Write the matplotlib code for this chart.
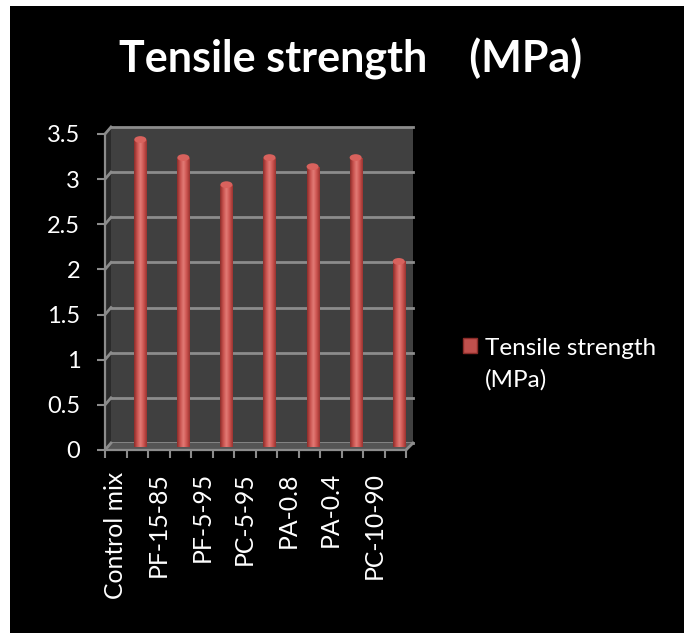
import numpy as np
import matplotlib
matplotlib.use("Agg")
import matplotlib.pyplot as plt
from matplotlib.patches import Rectangle, Polygon, Ellipse
from matplotlib.colors import LinearSegmentedColormap

categories = ["Control mix", "PF-15-85", "PF-5-95", "PC-5-95", "PA-0.8", "PA-0.4", "PC-10-90"]
tensile_mpa = [3.4, 3.2, 2.9, 3.2, 3.1, 3.2, 2.05]
y_ticks = [0, 0.5, 1, 1.5, 2, 2.5, 3, 3.5]
y_tick_labels = ["0", "0.5", "1", "1.5", "2", "2.5", "3", "3.5"]
series_name = ["Tensile strength", "(MPa)"]
title = "Tensile strength    (MPa)"

FONT = ["Lato", "DejaVu Sans"]
plt.rcParams["font.family"] = FONT

W, H = 684, 633
fig = plt.figure(figsize=(W / 100, H / 100), dpi=100, facecolor="white")


def box(l, t, r, b):
    return [l / W, 1 - b / H, (r - l) / W, (b - t) / H]


def fx(x):
    return x / W


def fy(y):
    return 1 - y / H


# black chart panel
fig.patches.append(Rectangle((fx(10), 0), 1 - fx(10), fy(6), transform=fig.transFigure,
                             facecolor="black", edgecolor="none", zorder=-10))

GRID = "#8c8c8c"
n = len(categories)
ymax = 3.5

# back wall
ax_back = fig.add_axes(box(111, 127, 413, 443), zorder=1)
ax_back.set_facecolor("#404040")
ax_back.set_xlim(0, n)
ax_back.set_ylim(0, ymax)
for yv in y_ticks:
    ax_back.axhline(yv, color=GRID, lw=2, zorder=1, clip_on=False)
ax_back.set_xticks([])
ax_back.set_yticks([])
for s in ax_back.spines.values():
    s.set_visible(False)

# front axes carrying the ticks and labels
ax_front = fig.add_axes(box(105, 134, 406, 450), zorder=6)
ax_front.set_facecolor("none")
ax_front.set_xlim(0, n)
ax_front.set_ylim(0, ymax)
for s in ("top", "right"):
    ax_front.spines[s].set_visible(False)
for s in ("left", "bottom"):
    ax_front.spines[s].set_color(GRID)
    ax_front.spines[s].set_linewidth(1.6)
ax_front.set_yticks(y_ticks)
ax_front.set_yticklabels(y_tick_labels)
ax_front.tick_params(axis="y", length=5.8, width=1.5, color=GRID, labelcolor="white",
                     labelsize=17, pad=12)
ax_front.set_xticks(np.arange(0, n + 0.01, 0.5))
ax_front.set_xticklabels([])
ax_front.set_xticks(np.arange(n) + 0.25, minor=True)
ax_front.set_xticklabels(categories, minor=True, rotation=90)
ax_front.tick_params(axis="x", which="major", length=5.8, width=1.5, color=GRID)
ax_front.tick_params(axis="x", which="minor", length=0, labelcolor="white",
                     labelsize=17.8, pad=16)

# side wall and floor joining front axes to back wall
to_fig = fig.transFigure.inverted()


def pt(ax, x, y):
    return to_fig.transform(ax.transData.transform((x, y)))


fig.canvas.draw()
side = Polygon([pt(ax_front, 0, 0), pt(ax_front, 0, ymax), pt(ax_back, 0, ymax), pt(ax_back, 0, 0)],
               closed=True, transform=fig.transFigure, facecolor="#2b2b2b", edgecolor="none", zorder=2)
floor = Polygon([pt(ax_front, 0, 0), pt(ax_back, 0, 0), pt(ax_back, n, 0), pt(ax_front, n, 0)],
                closed=True, transform=fig.transFigure, facecolor="#555555", edgecolor="none", zorder=2)
fig.patches.extend([side, floor])
for yv in y_ticks:
    a = pt(ax_front, 0, yv)
    b = pt(ax_back, 0, yv)
    fig.lines.append(plt.Line2D([a[0], b[0]], [a[1], b[1]], transform=fig.transFigure,
                                color=GRID, lw=2, zorder=2.5))
a = pt(ax_front, n, 0)
b = pt(ax_back, n, 0)
fig.lines.append(plt.Line2D([a[0], b[0]], [a[1], b[1]], transform=fig.transFigure,
                            color=GRID, lw=2, zorder=2.5))

# cylinders
ax_bar = fig.add_axes(box(108, 130.5, 409.5, 446.5), zorder=4)
ax_bar.set_facecolor("none")
ax_bar.axis("off")
ax_bar.set_xlim(0, n)
ax_bar.set_ylim(0, ymax)
bar_x = np.arange(n) + 0.75
bar_w = 0.28
bars = ax_bar.bar(bar_x, tensile_mpa, width=bar_w, color="#c0504d", edgecolor="none", zorder=2)
cyl = LinearSegmentedColormap.from_list("cyl", ["#8a2c29", "#c9524e", "#e27b76", "#cc5450", "#9a3330"])
grad = np.linspace(0, 1, 64).reshape(1, -1)
for rect, v in zip(bars, tensile_mpa):
    x0 = rect.get_x()
    im = ax_bar.imshow(grad, cmap=cyl, extent=(x0, x0 + bar_w, 0, v), aspect="auto",
                       interpolation="bilinear", zorder=3)
    im.set_clip_path(rect)
    ax_bar.add_patch(Ellipse((x0 + bar_w / 2, v), bar_w, 0.075, facecolor="#d8625d",
                             edgecolor="none", zorder=4))
ax_bar.set_xlim(0, n)
ax_bar.set_ylim(0, ymax)

# legend entry
fig.patches.append(Rectangle((fx(463), fy(353)), fx(477) - fx(463), fy(338) - fy(353),
                             transform=fig.transFigure, facecolor="#c0504d",
                             edgecolor="#8a2c29", lw=1, zorder=3))
fig.text(fx(485), fy(355), series_name[0], color="white", fontsize=17.5, va="baseline", ha="left")
fig.text(fx(485), fy(387), series_name[1], color="white", fontsize=17.5, va="baseline", ha="left")

# title
fig.text(fx(351), fy(72), title, color="white", fontsize=31, fontweight="bold",
         ha="center", va="baseline")

fig.savefig("out.png", dpi=100, facecolor="white")
